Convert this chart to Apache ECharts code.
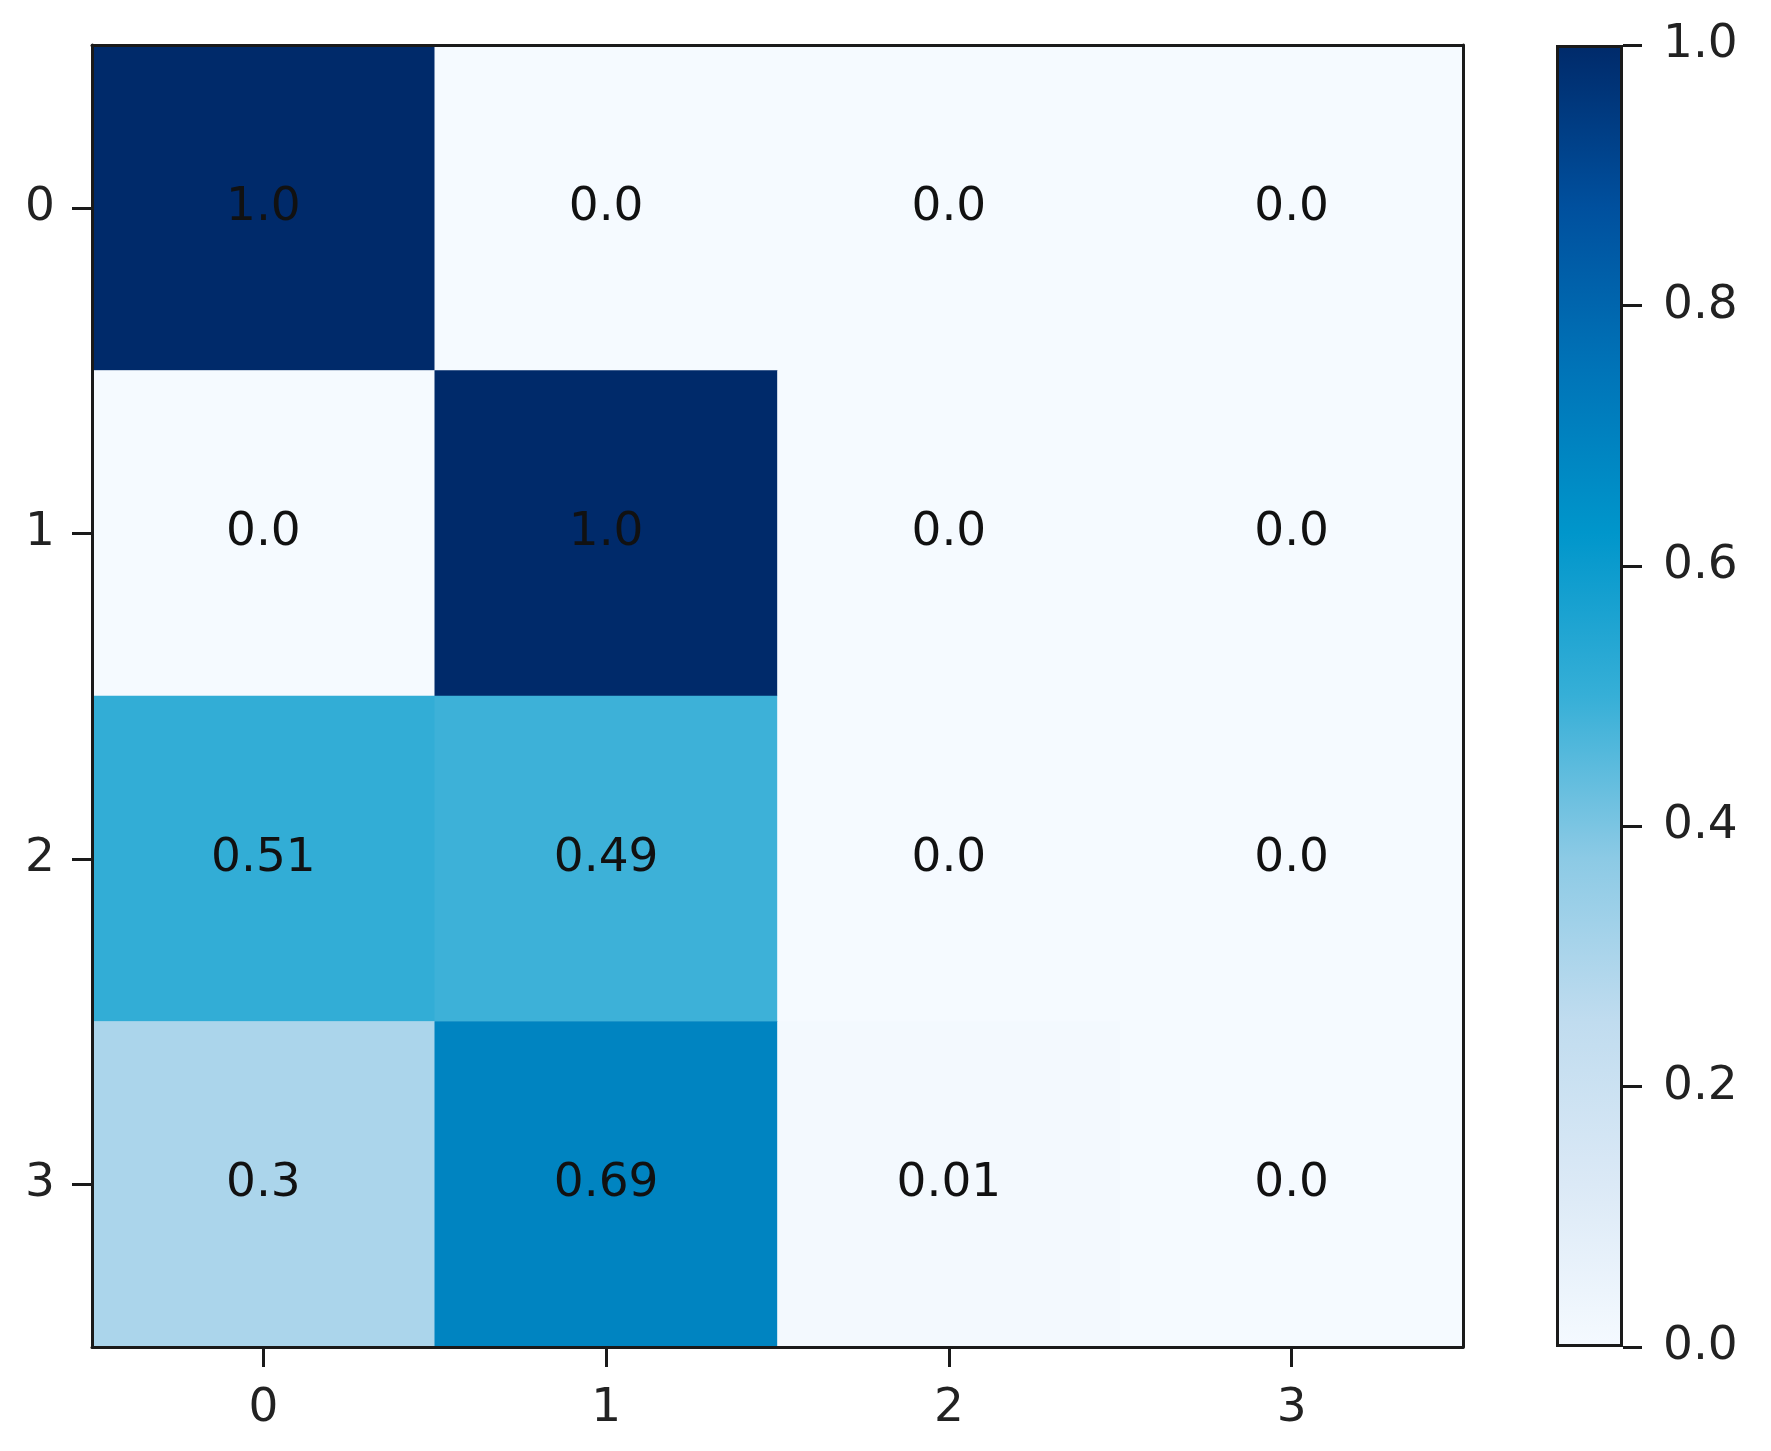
<!DOCTYPE html>
<html>
<head>
<meta charset="utf-8">
<script src="https://cdn.jsdelivr.net/npm/echarts@6/dist/echarts.min.js"></script>
<style>
html,body{margin:0;padding:0;background:#fff;}
#chart{width:1771px;height:1451px;}
</style>
</head>
<body>
<div id="chart"></div>
<script>
const xCategories = ['0', '1', '2', '3'];
const yCategories = ['0', '1', '2', '3'];
const matrixValues = [
  [1.0, 0.0, 0.0, 0.0],
  [0.0, 1.0, 0.0, 0.0],
  [0.51, 0.49, 0.0, 0.0],
  [0.3, 0.69, 0.01, 0.0]
];
const colorbarTicks = [0.0, 0.2, 0.4, 0.6, 0.8, 1.0];
const colorbarMax = [1.0];
const colorStops = ['#f5faff', '#dbe9f6', '#c0dcef', '#8ccae5', '#36afd7', '#0096cb', '#0074b8', '#00509e', '#002a6a'];

const heatData = [];
matrixValues.forEach((row, yi) => row.forEach((v, xi) => heatData.push([xi, yi, v])));

const fontFamily = 'DejaVu Sans';
const fs = 47;
const lineCol = '#1a1a1a';

const gradient = new echarts.graphic.LinearGradient(0, 0, 0, 1,
  colorStops.map((c, i) => ({offset: 1 - i / (colorStops.length - 1), color: c})).reverse());

const chart = echarts.init(document.getElementById('chart'), null, {renderer: 'canvas'});
chart.setOption({
  backgroundColor: '#ffffff',
  animation: false,
  textStyle: {fontFamily: fontFamily},
  grid: [
    {left: 92, top: 45, width: 1371, height: 1302, containLabel: false},
    {left: 1556, top: 45, width: 67, height: 1302, containLabel: false}
  ],
  xAxis: [
    {type: 'category', data: xCategories, gridIndex: 0, position: 'bottom', z: 10,
     axisLine: {show: true, lineStyle: {color: lineCol, width: 3}},
     axisTick: {show: true, alignWithLabel: true, length: 20, lineStyle: {color: lineCol, width: 3}},
     axisLabel: {fontSize: fs, color: '#222', margin: 38, fontFamily: fontFamily},
     splitLine: {show: false}},
    {type: 'category', data: xCategories, gridIndex: 0, position: 'top', z: 10,
     axisLine: {show: true, lineStyle: {color: lineCol, width: 3}},
     axisTick: {show: false}, axisLabel: {show: false}, splitLine: {show: false}},
    {type: 'category', data: ['cb'], gridIndex: 1, show: false}
  ],
  yAxis: [
    {type: 'category', data: yCategories, gridIndex: 0, inverse: true, position: 'left', z: 10,
     axisLine: {show: true, lineStyle: {color: lineCol, width: 3}},
     axisTick: {show: true, alignWithLabel: true, length: 20, lineStyle: {color: lineCol, width: 3}},
     axisLabel: {fontSize: fs, color: '#222', margin: 37, fontFamily: fontFamily},
     splitLine: {show: false}},
    {type: 'category', data: yCategories, gridIndex: 0, inverse: true, position: 'right', z: 10,
     axisLine: {show: true, lineStyle: {color: lineCol, width: 3}},
     axisTick: {show: false}, axisLabel: {show: false}, splitLine: {show: false}},
    {type: 'value', gridIndex: 1, min: colorbarTicks[0], max: colorbarTicks[colorbarTicks.length - 1], interval: 0.2,
     position: 'right', z: 10,
     axisLine: {show: false},
     axisTick: {show: true, length: 19, lineStyle: {color: lineCol, width: 3}},
     axisLabel: {fontSize: fs, color: '#222', margin: 40, fontFamily: fontFamily,
                 formatter: v => v.toFixed(1)},
     splitLine: {show: false}}
  ],
  visualMap: {
    type: 'continuous', min: 0, max: 1, show: false, seriesIndex: 0,
    inRange: {color: colorStops}
  },
  series: [
    {
      type: 'heatmap', xAxisIndex: 0, yAxisIndex: 0, data: heatData,
      itemStyle: {borderWidth: 0},
      emphasis: {disabled: true},
      label: {
        show: true, fontSize: fs, color: '#111', fontFamily: fontFamily,
        formatter: p => { const v = p.value[2]; return Number.isInteger(v) ? v.toFixed(1) : String(v); }
      }
    },
    {
      type: 'bar', xAxisIndex: 2, yAxisIndex: 2, data: colorbarMax, barWidth: '100%',
      itemStyle: {color: gradient, borderColor: lineCol, borderWidth: 3},
      emphasis: {disabled: true}
    }
  ]
});
</script>
</body>
</html>
